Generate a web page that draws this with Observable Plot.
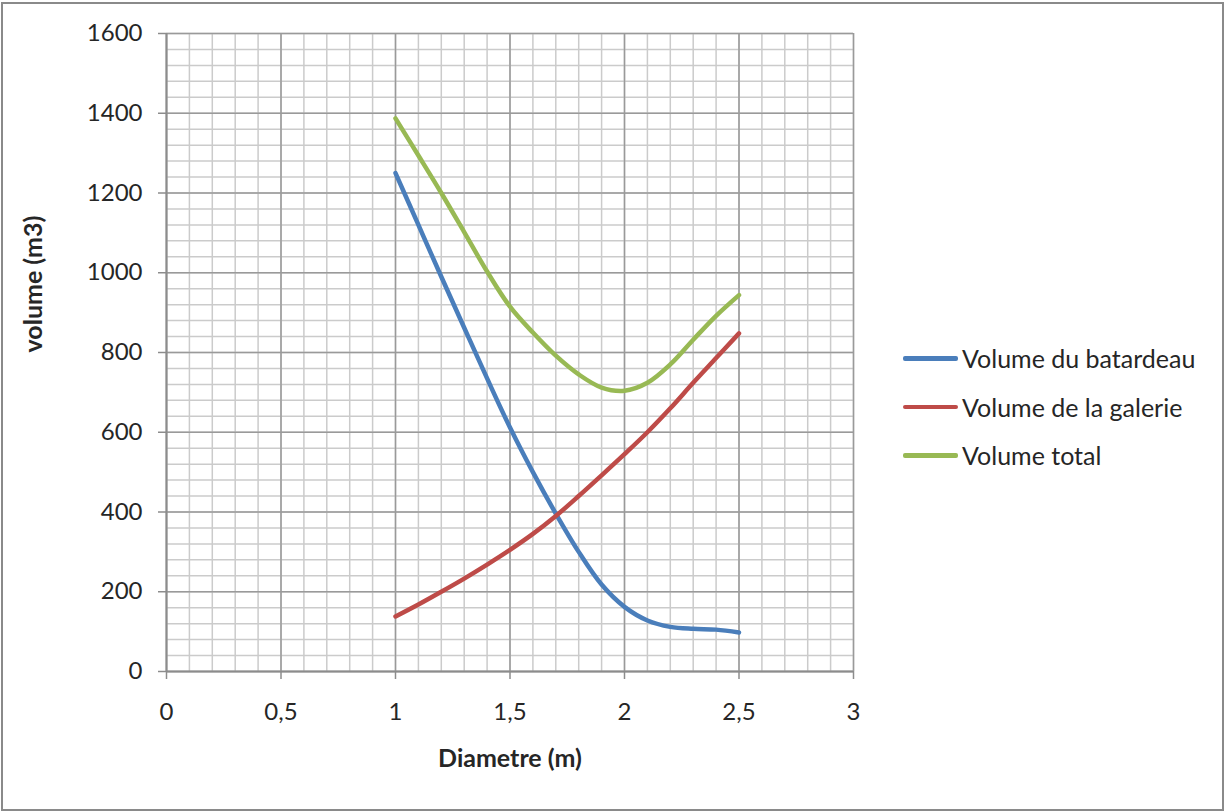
<!DOCTYPE html>
<html>
<head>
<meta charset="utf-8">
<script src="https://cdn.jsdelivr.net/npm/d3@7"></script>
<script src="https://cdn.jsdelivr.net/npm/@observablehq/plot@0.6"></script>
<style>
  html, body { margin: 0; padding: 0; background: #fff; }
  #chart { position: relative; width: 1225px; height: 812px; overflow: hidden; }
  #chart svg { display: block; }
  #border { position: absolute; left: 1px; top: 2px; right: 1px; bottom: 1px;
            border: 2px solid #8a8a8a; pointer-events: none; }
  #legend { position: absolute; left: 903px; top: 334px; font-family: Lato, sans-serif;
            font-size: 25px; color: #262626; }
  #legend .row { display: flex; align-items: center; height: 48.5px; }
  #legend .swatch { width: 55px; height: 4.5px; border-radius: 2px; margin-right: 4px; }
</style>
</head>
<body>
<div id="chart"><div id="border"></div></div>
<script>
// Diameter of the gallery (m)
const diametre = [1.0, 1.1, 1.2, 1.3, 1.4, 1.5, 1.6, 1.7, 1.8, 1.9, 2.0, 2.1, 2.2, 2.3, 2.4, 2.5];
// Volumes (m3)
const volumeBatardeau = [1250, 1120, 990, 862, 735, 612, 500, 396, 300, 218, 162, 128, 112, 107, 105, 98];
const volumeGalerie   = [138, 168, 200, 233, 268, 305, 345, 390, 440, 492, 545, 600, 660, 724, 786, 848];
const volumeTotal     = [1387, 1294, 1200, 1102, 1003, 915, 850, 792, 745, 712, 704, 724, 770, 832, 892, 944];

const seriesNames = ["Volume du batardeau", "Volume de la galerie", "Volume total"];
const seriesColors = ["#4a7ebb", "#be4b48", "#98b954"];
const seriesValues = [volumeBatardeau, volumeGalerie, volumeTotal];

const xTicks = [0, 0.5, 1, 1.5, 2, 2.5, 3];
const yTicks = [0, 200, 400, 600, 800, 1000, 1200, 1400, 1600];
const xTitle = "Diametre (m)";
const yTitle = "volume (m3)";

const rows = seriesNames.flatMap((name, s) =>
  diametre.map((d, i) => ({serie: name, diametre: d, volume: seriesValues[s][i]})));

const xMinor = d3.range(0, 31).map(i => i / 10);
const yMinor = d3.range(0, 41).map(i => i * 40);

const plot = Plot.plot({
  width: 1225,
  height: 812,
  marginLeft: 166,
  marginRight: 372,
  marginTop: 33,
  marginBottom: 141,
  style: {fontFamily: "Lato, sans-serif", fontSize: "24px", color: "#262626", background: "transparent"},
  x: {domain: [0, 3]},
  y: {domain: [0, 1600]},
  color: {domain: seriesNames, range: seriesColors},
  marks: [
    Plot.gridX(xMinor, {stroke: "#cbcbcb", strokeOpacity: 1, strokeWidth: 1.5}),
    Plot.gridY(yMinor, {stroke: "#cbcbcb", strokeOpacity: 1, strokeWidth: 1.5}),
    Plot.gridX(xTicks, {stroke: "#9a9a9a", strokeOpacity: 1, strokeWidth: 1.5}),
    Plot.gridY(yTicks, {stroke: "#9a9a9a", strokeOpacity: 1, strokeWidth: 1.5}),
    Plot.axisX({ticks: xTicks, tickSize: 8, tickPadding: 23, stroke: "#8c8c8c", strokeWidth: 1.5,
                tickFormat: d => String(d).replace(".", ","), label: null}),
    Plot.axisY({ticks: yTicks, tickSize: 8, tickPadding: 16, stroke: "#8c8c8c", strokeWidth: 1.5,
                tickFormat: d => String(d), label: null}),
    Plot.ruleY([0], {stroke: "#8c8c8c", strokeWidth: 2}),
    Plot.ruleX([0], {stroke: "#8c8c8c", strokeWidth: 2}),
    Plot.line(rows, {x: "diametre", y: "volume", z: "serie", stroke: "serie",
                     strokeWidth: 4.5, curve: "catmull-rom"}),
    Plot.text([xTitle], {frameAnchor: "bottom", dy: 95, fontWeight: "bold", fontSize: 25, fill: "#262626"}),
    Plot.text([yTitle], {frameAnchor: "left", dx: -133, rotate: -90, fontWeight: "bold", fontSize: 25, fill: "#262626"})
  ]
});

const chart = document.getElementById("chart");
chart.insertBefore(plot, chart.firstChild);

// Legend to the right of the plot area
const legend = document.createElement("div");
legend.id = "legend";
seriesNames.forEach((name, i) => {
  const row = document.createElement("div");
  row.className = "row";
  const sw = document.createElement("span");
  sw.className = "swatch";
  sw.style.background = seriesColors[i];
  const label = document.createElement("span");
  label.textContent = name;
  row.appendChild(sw);
  row.appendChild(label);
  legend.appendChild(row);
});
chart.appendChild(legend);
</script>
</body>
</html>
